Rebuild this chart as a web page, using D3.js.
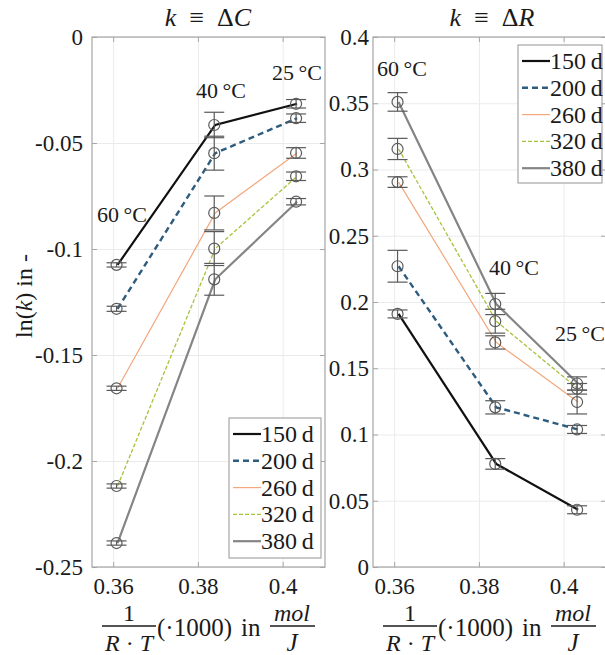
<!DOCTYPE html>
<html>
<head>
<meta charset="utf-8">
<script src="https://cdn.jsdelivr.net/npm/d3@7"></script>
<style>
  html, body { margin: 0; padding: 0; background: #fff; }
  svg { display: block; }
  svg text { font-family: "Liberation Serif", "DejaVu Serif", serif; }
</style>
</head>
<body>
<svg id="chart" width="605" height="655"></svg>
<script>
// ---------- data ----------
const xTickValues = [0.36, 0.38, 0.4];
const yTicksC = [0, -0.05, -0.1, -0.15, -0.2, -0.25];
const yTicksR = [0, 0.05, 0.1, 0.15, 0.2, 0.25, 0.3, 0.35, 0.4];
const tempLabels = ["60\u2009°C", "40\u2009°C", "25\u2009°C"];
const invRT = [0.36103, 0.38409, 0.40341];   // 1/(R·T)·1000 for 60, 40, 25 °C
const seriesNames = ["150\u2009d", "200\u2009d", "260\u2009d", "320\u2009d", "380\u2009d"];

// k ≡ ΔC : ln(k) per series at 60, 40, 25 °C
const dC150 = [-0.1075, -0.0415, -0.0315];
const dC200 = [-0.1282, -0.0548, -0.0383];
const dC260 = [-0.1657, -0.0830, -0.0547];
const dC320 = [-0.2118, -0.0998, -0.0657];
const dC380 = [-0.2387, -0.1143, -0.0777];
const dCErr150 = [0.0010, 0.0060, 0.0020];
const dCErr200 = [0.0012, 0.0080, 0.0020];
const dCErr260 = [0.0010, 0.0080, 0.0025];
const dCErr320 = [0.0010, 0.0080, 0.0020];
const dCErr380 = [0.0010, 0.0075, 0.0015];

// k ≡ ΔR
const dR150 = [0.1910, 0.0778, 0.0432];
const dR200 = [0.2270, 0.1205, 0.1038];
const dR260 = [0.2905, 0.1695, 0.1245];
const dR320 = [0.3155, 0.1855, 0.1345];
const dR380 = [0.3510, 0.1985, 0.1385];
const dRErr150 = [0.0030, 0.0040, 0.0030];
const dRErr200 = [0.0120, 0.0050, 0.0030];
const dRErr260 = [0.0040, 0.0050, 0.0090];
const dRErr320 = [0.0080, 0.0090, 0.0040];
const dRErr380 = [0.0070, 0.0080, 0.0050];

// ---------- styles ----------
const FONT = "Liberation Serif";
const seriesStyle = [
  { color: "#111111", width: 2.2, dash: null },
  { color: "#2e5c7e", width: 2.4, dash: "6,4" },
  { color: "#f2a77c", width: 1.2, dash: null },
  { color: "#a4c43c", width: 1.3, dash: "4,2" },
  { color: "#858585", width: 2.2, dash: null }
];

const svg = d3.select("#chart");

function txt(sel, size) {
  return sel.attr("font-family", FONT).attr("font-size", size).attr("fill", "#1a1a1a");
}

function panel(opts) {
  const g = svg.append("g");
  const top = 37, bottom = 567, left = opts.left, right = opts.left + 233;
  const x = d3.scaleLinear().domain([0.355, 0.41]).range([left, right]);
  const y = d3.scaleLinear().domain(opts.yDomain).range([bottom, top]);
  const w = right - left, h = bottom - top;

  // grid
  g.append("g").attr("transform", `translate(0,${bottom})`)
    .call(d3.axisBottom(x).tickValues(xTickValues).tickSize(-h).tickFormat(""))
    .call(s => { s.select(".domain").remove(); s.selectAll("line").attr("stroke", "#ebebeb"); });
  g.append("g").attr("transform", `translate(${left},0)`)
    .call(d3.axisLeft(y).tickValues(opts.yTicks).tickSize(-w).tickFormat(""))
    .call(s => { s.select(".domain").remove(); s.selectAll("line").attr("stroke", "#ebebeb"); });

  // box
  g.append("rect").attr("x", left).attr("y", top).attr("width", w).attr("height", h)
    .attr("fill", "none").attr("stroke", "#a6a6a6").attr("stroke-width", 1.2);

  // inward ticks
  const tk = 5;
  const tickStyle = s => { s.select(".domain").remove(); s.selectAll("line").attr("stroke", "#a6a6a6"); };
  g.append("g").attr("transform", `translate(0,${bottom})`)
    .call(d3.axisBottom(x).tickValues(xTickValues).tickSizeInner(-tk).tickSizeOuter(0).tickFormat("")).call(tickStyle);
  g.append("g").attr("transform", `translate(0,${top})`)
    .call(d3.axisTop(x).tickValues(xTickValues).tickSizeInner(-tk).tickSizeOuter(0).tickFormat("")).call(tickStyle);
  g.append("g").attr("transform", `translate(${left},0)`)
    .call(d3.axisLeft(y).tickValues(opts.yTicks).tickSizeInner(-tk).tickSizeOuter(0).tickFormat("")).call(tickStyle);
  g.append("g").attr("transform", `translate(${right},0)`)
    .call(d3.axisRight(y).tickValues(opts.yTicks).tickSizeInner(-tk).tickSizeOuter(0).tickFormat("")).call(tickStyle);

  // tick labels
  g.append("g").attr("transform", `translate(0,${bottom})`)
    .call(d3.axisBottom(x).tickValues(xTickValues).tickSize(0).tickPadding(11).tickFormat(d => String(d)))
    .call(s => { s.attr("font-family", FONT); s.select(".domain").remove(); txt(s.selectAll("text"), 23); });
  g.append("g").attr("transform", `translate(${left},0)`)
    .call(d3.axisLeft(y).tickValues(opts.yTicks).tickSize(0).tickPadding(opts.yPad).tickFormat(d => String(d)))
    .call(s => { s.attr("font-family", FONT); s.select(".domain").remove(); txt(s.selectAll("text"), 23); });

  // lines
  const line = d3.line().x((d, i) => x(invRT[i])).y(d => y(d));
  opts.values.forEach((vals, si) => {
    const st = seriesStyle[si];
    g.append("path").datum(vals).attr("d", line)
      .attr("fill", "none").attr("stroke", st.color).attr("stroke-width", st.width)
      .attr("stroke-dasharray", st.dash);
  });

  // error bars + markers
  opts.values.forEach((vals, si) => {
    const errs = opts.errors[si];
    vals.forEach((v, i) => {
      const cx = x(invRT[i]) - 1;
      const eg = g.append("g").attr("stroke", "#5a5a5a").attr("stroke-width", 1.2).attr("fill", "none");
      eg.append("line").attr("x1", cx).attr("x2", cx).attr("y1", y(v - errs[i])).attr("y2", y(v + errs[i]));
      eg.append("line").attr("x1", cx - 10).attr("x2", cx + 10).attr("y1", y(v - errs[i])).attr("y2", y(v - errs[i]));
      eg.append("line").attr("x1", cx - 10).attr("x2", cx + 10).attr("y1", y(v + errs[i])).attr("y2", y(v + errs[i]));
      eg.append("circle").attr("cx", cx).attr("cy", y(v)).attr("r", 5.5);
    });
  });

  // temperature labels
  opts.tempPos.forEach((p, i) => {
    txt(g.append("text"), 22).attr("x", p[0]).attr("y", p[1]).text(tempLabels[i]);
  });

  // title
  const t = txt(g.append("text"), 26).attr("x", opts.titleX).attr("y", 26).attr("text-anchor", "middle");
  t.append("tspan").attr("font-style", "italic").text("k");
  t.append("tspan").text("\u2002\u2261\u2002\u0394");
  t.append("tspan").attr("font-style", "italic").text(opts.titleVar);

  // x label (fraction)
  const fx = opts.left + 10;
  const xl = g.append("g");
  txt(xl.append("text"), 24).attr("x", fx + 27).attr("y", 621).attr("text-anchor", "middle").text("1");
  xl.append("line").attr("x1", fx).attr("x2", fx + 54).attr("y1", 626).attr("y2", 626)
    .attr("stroke", "#1a1a1a").attr("stroke-width", 1.3);
  const rt = txt(xl.append("text"), 24).attr("x", fx + 27).attr("y", 651).attr("text-anchor", "middle");
  rt.append("tspan").attr("font-style", "italic").text("R");
  rt.append("tspan").text(" \u00b7 ");
  rt.append("tspan").attr("font-style", "italic").text("T");
  txt(xl.append("text"), 25).attr("x", fx + 55).attr("y", 636).text("(\u00b71000)");
  txt(xl.append("text"), 25).attr("x", fx + 139).attr("y", 636).text("in");
  txt(xl.append("text"), 24).attr("x", fx + 190).attr("y", 621).attr("text-anchor", "middle")
    .attr("font-style", "italic").text("mol");
  xl.append("line").attr("x1", fx + 168).attr("x2", fx + 213).attr("y1", 626).attr("y2", 626)
    .attr("stroke", "#1a1a1a").attr("stroke-width", 1.3);
  txt(xl.append("text"), 25).attr("x", fx + 190).attr("y", 651).attr("text-anchor", "middle")
    .attr("font-style", "italic").text("J");

  // legend
  const L = opts.legend;
  const lg = g.append("g");
  lg.append("rect").attr("x", L.x).attr("y", L.y).attr("width", L.w).attr("height", L.h)
    .attr("fill", "#fff").attr("stroke", "#a6a6a6").attr("stroke-width", 1.2);
  seriesNames.forEach((name, si) => {
    const st = seriesStyle[si];
    const ry = L.y + 16 + si * 26.8;
    lg.append("line").attr("x1", L.x + 4).attr("x2", L.x + 32).attr("y1", ry).attr("y2", ry)
      .attr("stroke", st.color).attr("stroke-width", st.width).attr("stroke-dasharray", st.dash);
    txt(lg.append("text"), 24).attr("x", L.x + 32).attr("y", ry + 8).text(name);
  });
}

panel({
  left: 92, yDomain: [-0.25, 0], yTicks: yTicksC, yPad: 9,
  values: [dC150, dC200, dC260, dC320, dC380],
  errors: [dCErr150, dCErr200, dCErr260, dCErr320, dCErr380],
  tempPos: [[97, 222], [196, 98], [272, 80]],
  titleVar: "C", titleX: 208,
  legend: { x: 229, y: 418, w: 92, h: 140 }
});
panel({
  left: 373, yDomain: [0, 0.4], yTicks: yTicksR, yPad: 4,
  values: [dR150, dR200, dR260, dR320, dR380],
  errors: [dRErr150, dRErr200, dRErr260, dRErr320, dRErr380],
  tempPos: [[377, 76], [489, 275], [555, 341]],
  titleVar: "R", titleX: 492,
  legend: { x: 518, y: 45, w: 84, h: 138 }
});

// y label
const yl = txt(svg.append("text"), 24).attr("transform", "translate(32,296) rotate(-90)")
  .attr("text-anchor", "middle");
yl.append("tspan").text("ln(");
yl.append("tspan").attr("font-style", "italic").text("k");
yl.append("tspan").text(") in -");
</script>
</body>
</html>
